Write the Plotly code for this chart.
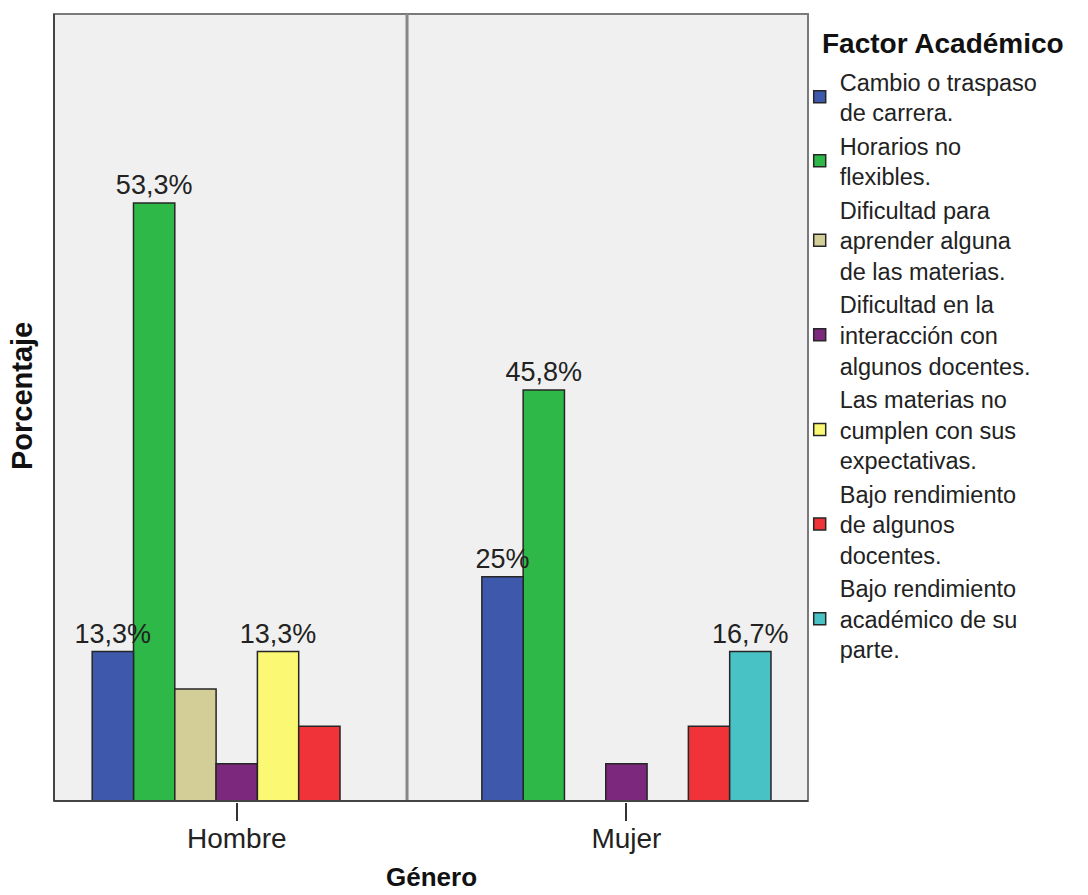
import plotly.graph_objects as go

# ---------------- data ----------------
generos = ["Hombre", "Mujer"]
factores = [
    "Cambio o traspaso<br>de carrera.",
    "Horarios no<br>flexibles.",
    "Dificultad para<br>aprender alguna<br>de las materias.",
    "Dificultad en la<br>interacción con<br>algunos docentes.",
    "Las materias no<br>cumplen con sus<br>expectativas.",
    "Bajo rendimiento<br>de algunos<br>docentes.",
    "Bajo rendimiento<br>académico de su<br>parte.",
]
colores = ["#3E58AC", "#2EB848", "#D3CE97", "#7C287D", "#FBF873", "#EF3338", "#48C2C5"]
cuentas_hombre = [4, 16, 3, 1, 4, 2, 0]
cuentas_mujer = [6, 11, 0, 1, 0, 2, 4]
etiquetas_hombre = ["13,3%", "53,3%", "", "", "13,3%", "", ""]
etiquetas_mujer = ["25%", "45,8%", "", "", "", "", "16,7%"]

total = sum(cuentas_hombre) + sum(cuentas_mujer)
FONT = "Arial, Liberation Sans, sans-serif"

fig = go.Figure()
for i, nombre in enumerate(factores):
    fig.add_trace(go.Bar(
        name=nombre,
        x=generos,
        y=[cuentas_hombre[i] / total * 100, cuentas_mujer[i] / total * 100],
        text=[etiquetas_hombre[i], etiquetas_mujer[i]],
        textposition="outside",
        constraintext="none",
        cliponaxis=False,
        zorder=1 if i == 0 else 0,
        textfont=dict(family=FONT, size=27, color="#222222"),
        marker=dict(color=colores[i], line=dict(color="#262626", width=1.5)),
    ))

fig.update_layout(
    width=1088, height=895,
    margin=dict(l=54, r=280, t=14, b=94),
    paper_bgcolor="white",
    plot_bgcolor="#F0F0F0",
    barmode="group",
    bargap=0.258,
    bargroupgap=0,
    font=dict(family=FONT, color="#222222"),
    showlegend=True,
    legend=dict(
        x=0.989, xanchor="left", y=0.942, yanchor="top",
        font=dict(family=FONT, size=23.5, color="#222222"),
        bgcolor="rgba(0,0,0,0)", borderwidth=0,
        valign="middle", tracegroupgap=0,
    ),
    xaxis=dict(
        range=[-0.469, 1.466], showgrid=False, zeroline=False, automargin=False,
        showline=True, linecolor="#333333", linewidth=1.5,
        ticks="outside", ticklen=18, tickwidth=1.5, tickcolor="#333333",
        ticklabelstandoff=-6,
        tickfont=dict(family=FONT, size=28, color="#222222"),
    ),
    yaxis=dict(
        range=[0, 39.0], showgrid=False, zeroline=False, automargin=False,
        showline=True, linecolor="#333333", linewidth=1.5,
        showticklabels=False, ticks="",
    ),
    annotations=[
        dict(text="<b>Factor Académico</b>", xref="paper", yref="paper",
             x=1.016, xanchor="left", y=1.0, yanchor="top", yshift=-12,
             showarrow=False, font=dict(family=FONT, size=28, color="#111111")),
        dict(text="<b>Género</b>", xref="paper", yref="paper",
             x=0.5, xanchor="center", y=-0.0966, yanchor="middle",
             showarrow=False, font=dict(family=FONT, size=26, color="#111111")),
        dict(text="<b>Porcentaje</b>", xref="paper", yref="paper", textangle=-90,
             x=-0.0424, xanchor="center", y=0.5146, yanchor="middle",
             showarrow=False, font=dict(family=FONT, size=29, color="#111111")),
    ],
    shapes=[
        dict(type="rect", xref="paper", yref="paper", x0=0, x1=1, y0=0, y1=1,
             line=dict(color="#7A7A7A", width=2), layer="above"),
        dict(type="line", xref="paper", yref="paper", x0=0.4682, x1=0.4682, y0=0, y1=1,
             line=dict(color="#888888", width=3), layer="above"),
        dict(type="line", xref="paper", yref="paper", x0=0, x1=0, y0=0, y1=1,
             line=dict(color="#333333", width=1.5), layer="above"),
        dict(type="line", xref="paper", yref="paper", x0=0, x1=1, y0=0, y1=0,
             line=dict(color="#333333", width=1.5), layer="above"),
    ],
)

fig.write_html(
    "out.html",
    config={"displayModeBar": False},
    post_script="document.body.style.margin='0';document.body.style.overflow='hidden';",
)
